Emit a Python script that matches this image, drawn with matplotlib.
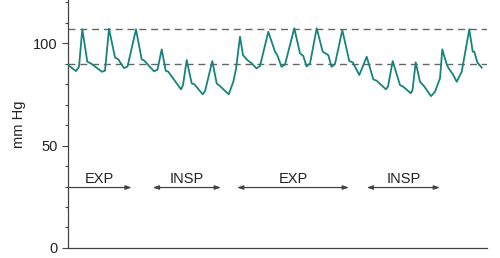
import matplotlib
matplotlib.use('Agg')
import matplotlib.pyplot as plt
from matplotlib.ticker import MultipleLocator

plt.rcParams['font.family'] = ['Liberation Sans', 'DejaVu Sans']

# Arterial pressure trace (time in arbitrary units, pressure in mm Hg)
t = [0, 8, 11, 14.3, 19.3, 22.7, 34, 37, 41, 47, 50.3, 56, 59.5, 68, 73.7, 76.3,
     86, 89.5, 93.7, 97.7, 100.3, 113, 115, 118.7, 123.7, 126.3, 134.7, 137,
     144.3, 148.7, 151, 160.7, 165.3, 168, 172, 175, 179.3, 183.7, 188.5,
     192, 200.3, 207, 209.3, 213.5, 217, 226.3, 232, 235.3, 238.5, 242,
     248.7, 254.7, 260.3, 263.5, 267, 274.3, 281.3, 284.7, 291.3, 298.7,
     305.3, 308.7, 318, 320, 324.7, 332, 335.3, 342.7, 344.5, 347.7, 352,
     356, 363, 367, 372, 374.3, 378.7, 380.3, 385.3, 388.7, 393.7, 401.3,
     404.7, 406.3, 409.3, 413.7]
pressure = [89.3, 86.3, 88.4, 106.7, 90.9, 90.1, 86.0, 86.5, 107.0, 93.0, 92.0,
            87.8, 88.5, 106.7, 92.0, 91.4, 86.2, 87.0, 96.9, 86.5, 86.0, 77.4,
            79.5, 91.7, 80.3, 79.9, 75.0, 76.5, 91.2, 80.3, 79.4, 75.0, 81.1,
            87.3, 103.1, 94.1, 91.7, 90.1, 87.6, 88.8, 105.5, 95.8, 94.1, 88.4,
            89.5, 107.2, 95.0, 93.7, 88.6, 90.0, 107.2, 95.8, 94.1, 88.4, 89.8,
            106.3, 91.2, 90.6, 84.4, 93.3, 82.3, 81.6, 77.4, 78.8, 91.2, 79.5,
            78.7, 75.5, 77.0, 90.6, 81.1, 79.0, 74.1, 76.2, 82.8, 96.9, 89.6,
            88.0, 84.4, 81.1, 86.0, 106.7, 95.8, 95.8, 90.6, 88.0]

ref_levels = [106.7, 89.6]

phase_labels = ['EXP', 'INSP', 'EXP', 'INSP']
phase_start = [0, 84.7, 169, 298.7]
phase_end = [63.7, 153, 281, 372]
phase_double = [False, True, True, True]
arrow_level = 29.5

fig = plt.figure(figsize=(5, 2.58), dpi=100)
ax = fig.add_axes([0.136, 0.0388, 0.838, 0.9612])

for lvl in ref_levels:
    ax.axhline(lvl, color='#666666', lw=1.0, dashes=(5, 3.5), zorder=1)

ax.plot(t, pressure, color='#16837d', lw=1.3, solid_joinstyle='round', zorder=3)

for lab, s, e, dbl in zip(phase_labels, phase_start, phase_end, phase_double):
    style = '<|-|>' if dbl else '-|>'
    ax.annotate('', xy=(e, arrow_level), xytext=(s, arrow_level),
                arrowprops=dict(arrowstyle=style + ',head_length=0.35,head_width=0.12',
                                color='#444444', lw=0.9, shrinkA=0, shrinkB=0))
    ax.text((s + e) / 2, arrow_level + 2.2, lab, ha='center', va='baseline',
            fontsize=10.5, color='#222222')

ax.set_xlim(0, 419)
ax.set_ylim(0, 121)
ax.set_yticks([0, 50, 100])
ax.yaxis.set_minor_locator(MultipleLocator(10))
ax.tick_params(axis='y', which='major', length=4.5, width=0.8, color='#444444',
               labelsize=10.5, pad=3, labelcolor='#222222')
ax.tick_params(axis='y', which='minor', length=2.5, width=0.8, color='#444444')
ax.set_xticks([])
ax.set_ylabel('mm Hg', fontsize=10.5, labelpad=5, color='#222222')
for side in ['top', 'right']:
    ax.spines[side].set_visible(False)
for side in ['left', 'bottom']:
    ax.spines[side].set_color('#444444')
    ax.spines[side].set_linewidth(0.9)

fig.savefig('out.png', dpi=100)
